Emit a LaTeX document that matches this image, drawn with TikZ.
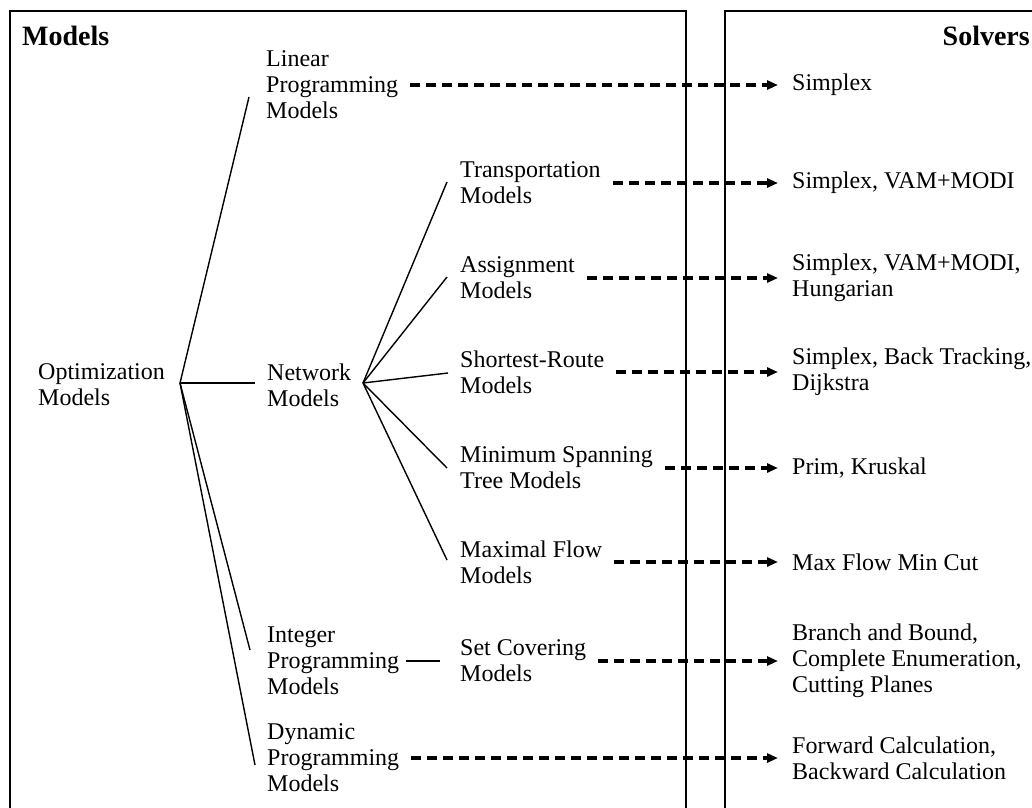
\documentclass[tikz,border=0pt]{standalone}
\usepackage{fontspec}
\setmainfont{Liberation Serif}
\usetikzlibrary{arrows.meta,calc}
\begin{document}
\begin{tikzpicture}[x=1pt,y=-1pt,
  lbl/.style={anchor=west,align=left,inner sep=0pt,font=\fontsize{24}{26}\selectfont},
  ttl/.style={inner sep=0pt,font=\fontsize{28}{30}\selectfont\bfseries},
  tree/.style={line width=1.4pt},
  frame/.style={line width=1.8pt},
  dasharrow/.style={line width=3.2pt,dash pattern=on 10pt off 6pt,
    -{Triangle[length=11pt,width=9pt]},shorten <=12pt,shorten >=14pt}]
\useasboundingbox (0,0) rectangle (1032,807);
\fill[white] (0,0) rectangle (1032,807);
\begin{scope}
\clip (0,0) rectangle (1032,807);
\draw[frame] (10,815) -- (10,11) -- (686,11) -- (686,815);
\draw[frame] (725,815) -- (725,11) -- (1040,11);
\end{scope}
% titles
\node[ttl,anchor=west] (tm) at (22,36) {Models};
\node[ttl,anchor=east] (ts) at (1030,36) {Solvers};
% models
\node[lbl] (lin) at (266,85) {Linear\\Programming\\Models};
\node[lbl] (opt) at (38,385) {Optimization\\Models};
\node[lbl] (net) at (267,385) {Network\\Models};
\node[lbl] (tra) at (460,183) {Transportation\\Models};
\node[lbl] (asg) at (460,278) {Assignment\\Models};
\node[lbl] (sho) at (460,372) {Shortest-Route\\Models};
\node[lbl] (mst) at (460,468) {Minimum Spanning\\Tree Models};
\node[lbl] (mxf) at (460,562) {Maximal Flow\\Models};
\node[lbl] (int) at (267,661) {Integer\\Programming\\Models};
\node[lbl] (set) at (460,661) {Set Covering\\Models};
\node[lbl] (dyn) at (267,758) {Dynamic\\Programming\\Models};
% solvers
\node[lbl] (s1) at (792,85) {Simplex};
\node[lbl] (s2) at (792,183) {Simplex, VAM+MODI};
\node[lbl] (s3) at (792,278) {Simplex, VAM+MODI,\\Hungarian};
\node[lbl] (s4) at (792,372) {Simplex, Back Tracking,\\Dijkstra};
\node[lbl] (s5) at (792,468) {Prim, Kruskal};
\node[lbl] (s6) at (792,562) {Max Flow Min Cut};
\node[lbl] (s7) at (792,661) {Branch and Bound,\\Complete Enumeration,\\Cutting Planes};
\node[lbl] (s8) at (792,758) {Forward Calculation,\\Backward Calculation};
% hubs
\coordinate (oh) at (180,383);
\coordinate (nh) at (363,383);
% tree connectors
\draw[tree] (oh) -- ($(lin.west)+(-17,12)$);
\draw[tree] (oh) -- ($(net.west)+(-12,-2)$);
\draw[tree] (oh) -- ($(int.west)+(-17,-11)$);
\draw[tree] (oh) -- ($(dyn.west)+(-12,7)$);
\draw[tree] (nh) -- ($(tra.west)+(-13,-1)$);
\draw[tree] (nh) -- ($(asg.west)+(-13,-1)$);
\draw[tree] (nh) -- ($(sho.west)+(-12,1)$);
\draw[tree] (nh) -- ($(mst.west)+(-13,0)$);
\draw[tree] (nh) -- ($(mxf.west)+(-13,-2)$);
\draw[tree,shorten <=7pt,shorten >=20pt] (int.east) -- (set.west);
% dashed arrows
\draw[dasharrow] (lin.east) -- (s1.west);
\draw[dasharrow] (tra.east) -- (s2.west);
\draw[dasharrow] (asg.east) -- (s3.west);
\draw[dasharrow] (sho.east) -- (s4.west);
\draw[dasharrow] (mst.east) -- (s5.west);
\draw[dasharrow] (mxf.east) -- (s6.west);
\draw[dasharrow] (set.east) -- (s7.west);
\draw[dasharrow] (dyn.east) -- (s8.west);
\end{tikzpicture}
\end{document}
